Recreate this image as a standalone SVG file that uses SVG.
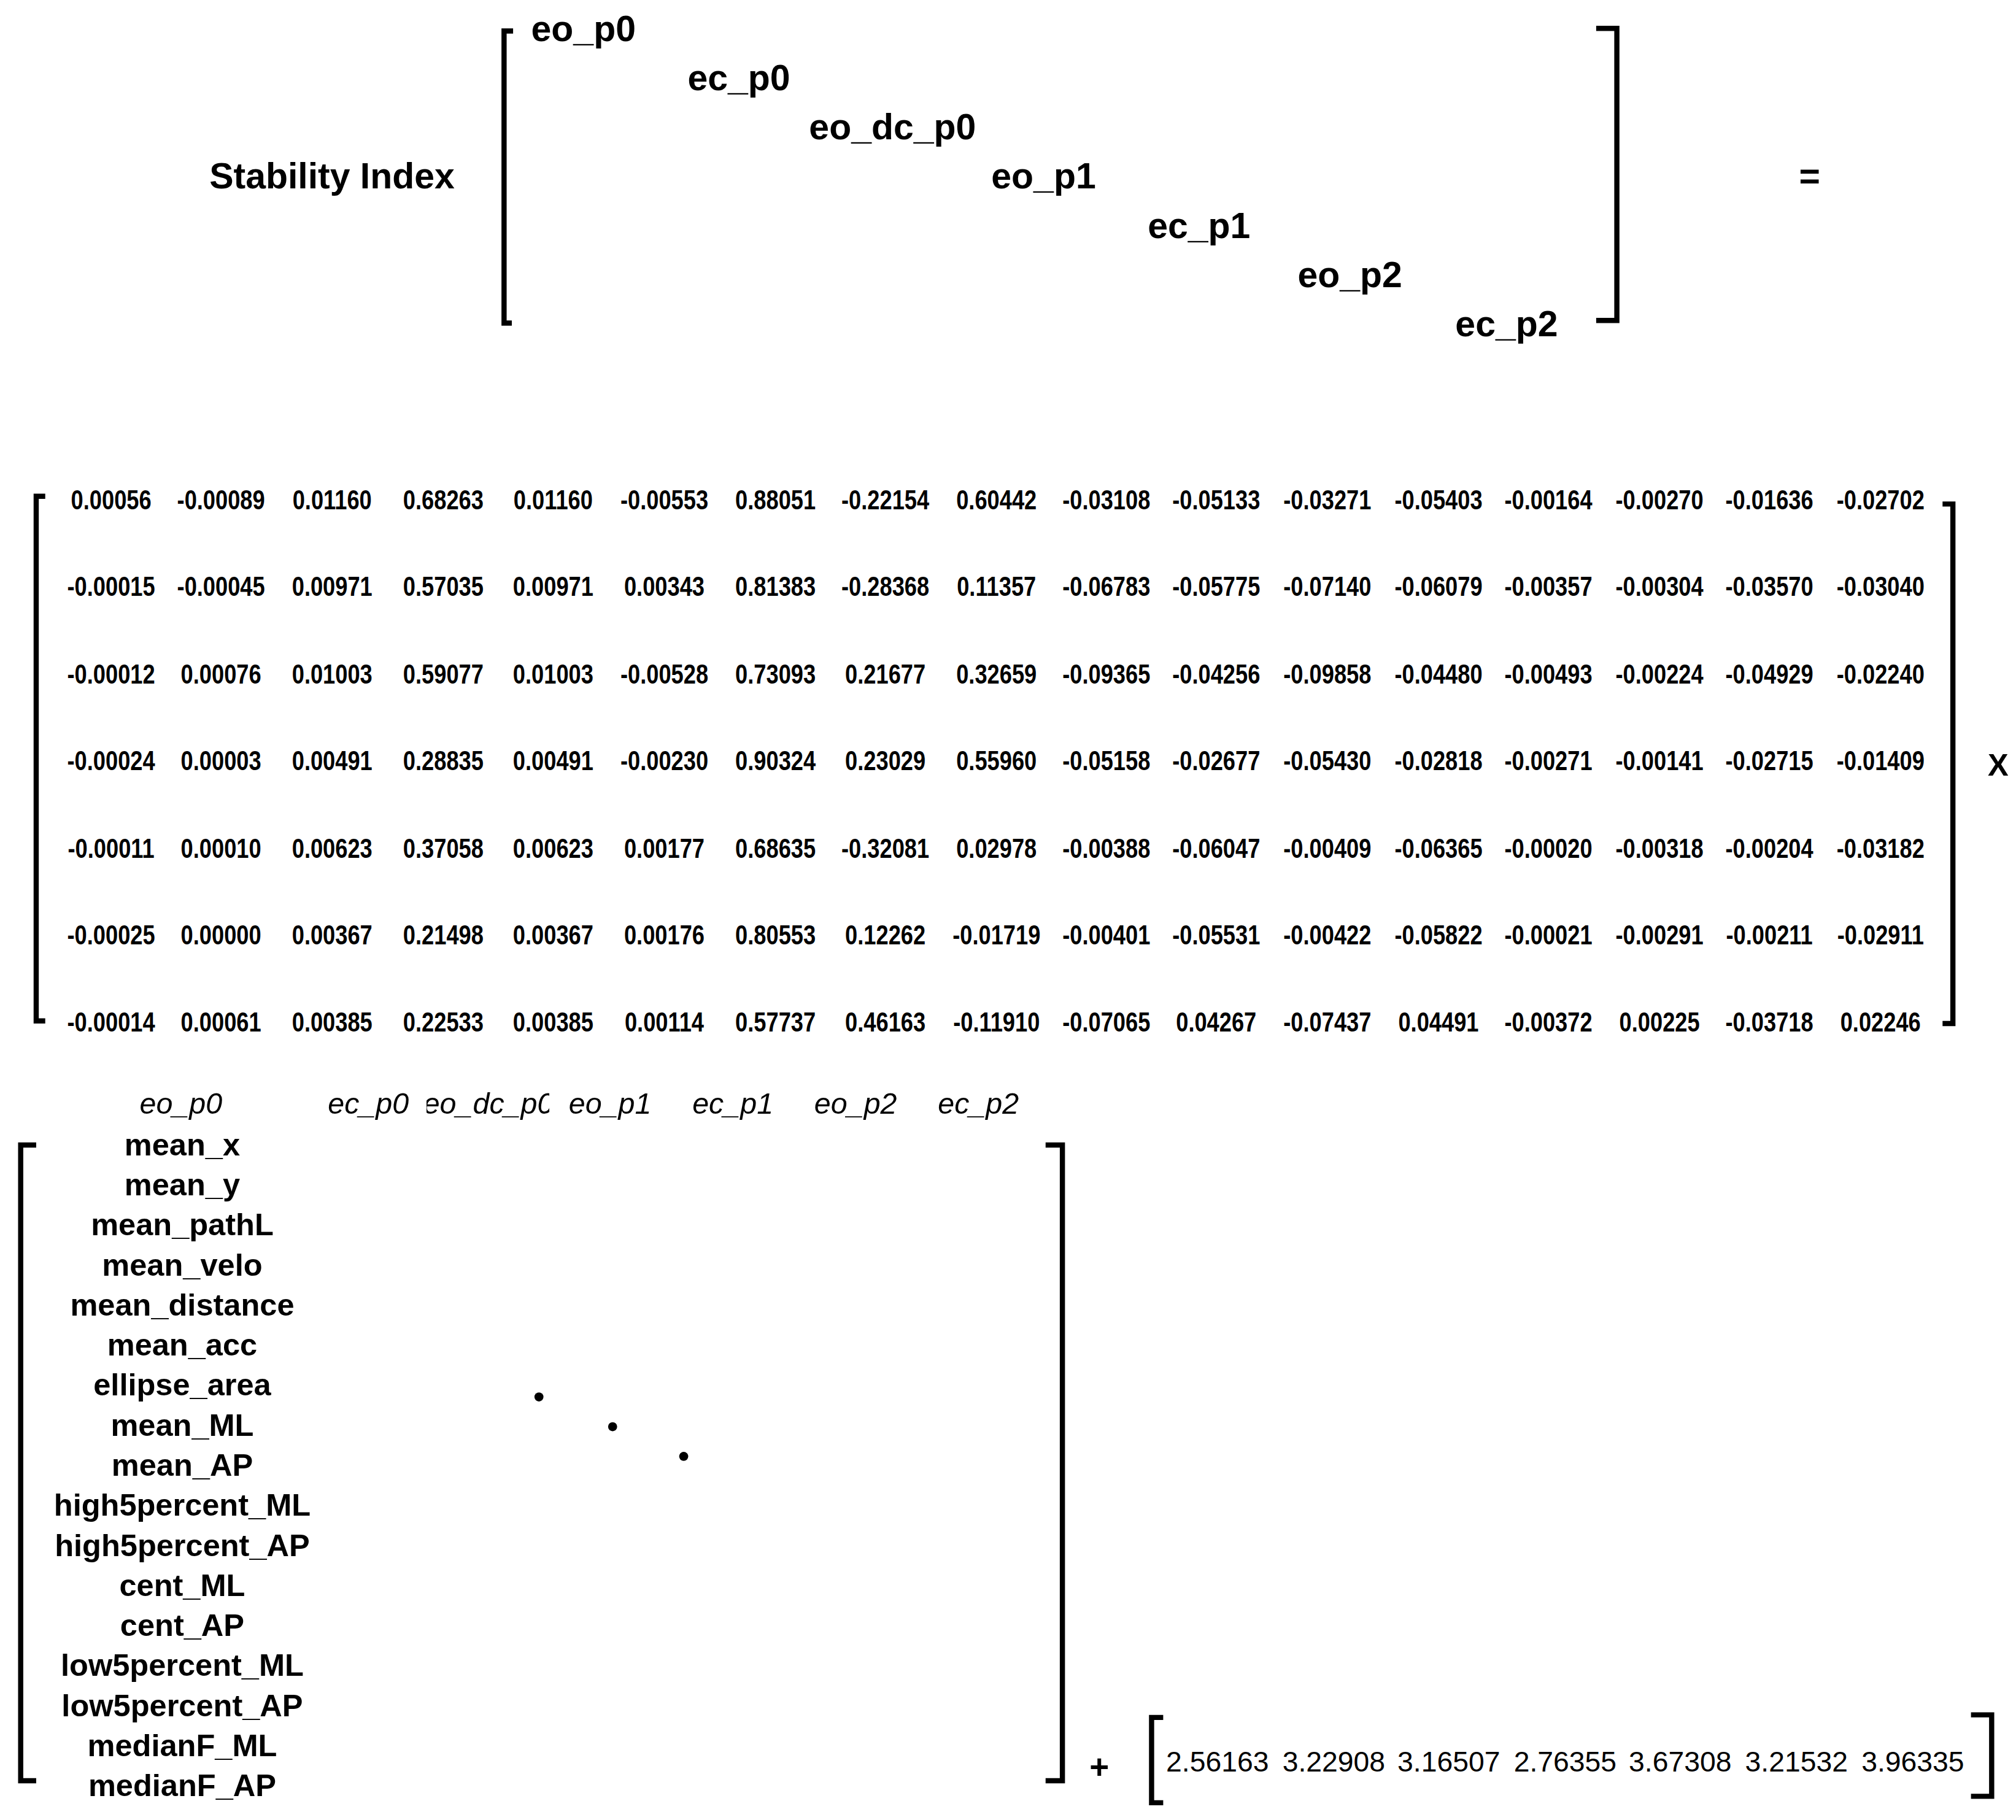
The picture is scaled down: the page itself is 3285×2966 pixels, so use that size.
<svg xmlns="http://www.w3.org/2000/svg" width="3285" height="2966" viewBox="0 0 3285 2966">
<style>
.b{fill:none;stroke:#000;stroke-width:4;stroke-linecap:square}
.t{font-family:"Liberation Sans",Arial,sans-serif;fill:#000}
.h{font-size:28px;font-weight:bold}
.m{font-size:21px;font-weight:bold;text-anchor:middle}
.i{font-size:23px;font-style:italic;text-anchor:middle}
.r{font-size:24px;font-weight:bold;text-anchor:middle}
.v{font-size:22px;text-anchor:middle}
</style>
<defs><clipPath id="c"><rect x="330" y="830" width="95" height="50"/></clipPath></defs>
<rect width="3285" height="2966" fill="#fff"/>
<g transform="scale(2.106)">
<g id="top">
<text class="t h" x="162" y="146">Stability Index</text>
<path class="b" d="M395,24 H390 V250 H394"/>
<path class="b" d="M1237,22 H1251 V248 H1237"/>
<text class="t h" x="411" y="32">eo_p0</text>
<text class="t h" x="532" y="70">ec_p0</text>
<text class="t h" x="626" y="108">eo_dc_p0</text>
<text class="t h" x="767" y="146">eo_p1</text>
<text class="t h" x="888" y="184">ec_p1</text>
<text class="t h" x="1004" y="222">eo_p2</text>
<text class="t h" x="1126" y="260">ec_p2</text>
<text class="t h" x="1392" y="146">=</text>
</g>
<g id="matrix">
<path class="b" d="M33,384 H28 V790 H33"/>
<path class="b" d="M1505,390 H1511 V792 H1505"/>
<g class="t m">
<text transform="translate(86,0) scale(0.82,1)"><tspan x="0" y="394">0.00056</tspan><tspan x="0" y="461">-0.00015</tspan><tspan x="0" y="529">-0.00012</tspan><tspan x="0" y="596">-0.00024</tspan><tspan x="0" y="664">-0.00011</tspan><tspan x="0" y="731">-0.00025</tspan><tspan x="0" y="798">-0.00014</tspan></text>
<text transform="translate(171,0) scale(0.82,1)"><tspan x="0" y="394">-0.00089</tspan><tspan x="0" y="461">-0.00045</tspan><tspan x="0" y="529">0.00076</tspan><tspan x="0" y="596">0.00003</tspan><tspan x="0" y="664">0.00010</tspan><tspan x="0" y="731">0.00000</tspan><tspan x="0" y="798">0.00061</tspan></text>
<text transform="translate(257,0) scale(0.82,1)"><tspan x="0" y="394">0.01160</tspan><tspan x="0" y="461">0.00971</tspan><tspan x="0" y="529">0.01003</tspan><tspan x="0" y="596">0.00491</tspan><tspan x="0" y="664">0.00623</tspan><tspan x="0" y="731">0.00367</tspan><tspan x="0" y="798">0.00385</tspan></text>
<text transform="translate(343,0) scale(0.82,1)"><tspan x="0" y="394">0.68263</tspan><tspan x="0" y="461">0.57035</tspan><tspan x="0" y="529">0.59077</tspan><tspan x="0" y="596">0.28835</tspan><tspan x="0" y="664">0.37058</tspan><tspan x="0" y="731">0.21498</tspan><tspan x="0" y="798">0.22533</tspan></text>
<text transform="translate(428,0) scale(0.82,1)"><tspan x="0" y="394">0.01160</tspan><tspan x="0" y="461">0.00971</tspan><tspan x="0" y="529">0.01003</tspan><tspan x="0" y="596">0.00491</tspan><tspan x="0" y="664">0.00623</tspan><tspan x="0" y="731">0.00367</tspan><tspan x="0" y="798">0.00385</tspan></text>
<text transform="translate(514,0) scale(0.82,1)"><tspan x="0" y="394">-0.00553</tspan><tspan x="0" y="461">0.00343</tspan><tspan x="0" y="529">-0.00528</tspan><tspan x="0" y="596">-0.00230</tspan><tspan x="0" y="664">0.00177</tspan><tspan x="0" y="731">0.00176</tspan><tspan x="0" y="798">0.00114</tspan></text>
<text transform="translate(600,0) scale(0.82,1)"><tspan x="0" y="394">0.88051</tspan><tspan x="0" y="461">0.81383</tspan><tspan x="0" y="529">0.73093</tspan><tspan x="0" y="596">0.90324</tspan><tspan x="0" y="664">0.68635</tspan><tspan x="0" y="731">0.80553</tspan><tspan x="0" y="798">0.57737</tspan></text>
<text transform="translate(685,0) scale(0.82,1)"><tspan x="0" y="394">-0.22154</tspan><tspan x="0" y="461">-0.28368</tspan><tspan x="0" y="529">0.21677</tspan><tspan x="0" y="596">0.23029</tspan><tspan x="0" y="664">-0.32081</tspan><tspan x="0" y="731">0.12262</tspan><tspan x="0" y="798">0.46163</tspan></text>
<text transform="translate(771,0) scale(0.82,1)"><tspan x="0" y="394">0.60442</tspan><tspan x="0" y="461">0.11357</tspan><tspan x="0" y="529">0.32659</tspan><tspan x="0" y="596">0.55960</tspan><tspan x="0" y="664">0.02978</tspan><tspan x="0" y="731">-0.01719</tspan><tspan x="0" y="798">-0.11910</tspan></text>
<text transform="translate(856,0) scale(0.82,1)"><tspan x="0" y="394">-0.03108</tspan><tspan x="0" y="461">-0.06783</tspan><tspan x="0" y="529">-0.09365</tspan><tspan x="0" y="596">-0.05158</tspan><tspan x="0" y="664">-0.00388</tspan><tspan x="0" y="731">-0.00401</tspan><tspan x="0" y="798">-0.07065</tspan></text>
<text transform="translate(941,0) scale(0.82,1)"><tspan x="0" y="394">-0.05133</tspan><tspan x="0" y="461">-0.05775</tspan><tspan x="0" y="529">-0.04256</tspan><tspan x="0" y="596">-0.02677</tspan><tspan x="0" y="664">-0.06047</tspan><tspan x="0" y="731">-0.05531</tspan><tspan x="0" y="798">0.04267</tspan></text>
<text transform="translate(1027,0) scale(0.82,1)"><tspan x="0" y="394">-0.03271</tspan><tspan x="0" y="461">-0.07140</tspan><tspan x="0" y="529">-0.09858</tspan><tspan x="0" y="596">-0.05430</tspan><tspan x="0" y="664">-0.00409</tspan><tspan x="0" y="731">-0.00422</tspan><tspan x="0" y="798">-0.07437</tspan></text>
<text transform="translate(1113,0) scale(0.82,1)"><tspan x="0" y="394">-0.05403</tspan><tspan x="0" y="461">-0.06079</tspan><tspan x="0" y="529">-0.04480</tspan><tspan x="0" y="596">-0.02818</tspan><tspan x="0" y="664">-0.06365</tspan><tspan x="0" y="731">-0.05822</tspan><tspan x="0" y="798">0.04491</tspan></text>
<text transform="translate(1198,0) scale(0.82,1)"><tspan x="0" y="394">-0.00164</tspan><tspan x="0" y="461">-0.00357</tspan><tspan x="0" y="529">-0.00493</tspan><tspan x="0" y="596">-0.00271</tspan><tspan x="0" y="664">-0.00020</tspan><tspan x="0" y="731">-0.00021</tspan><tspan x="0" y="798">-0.00372</tspan></text>
<text transform="translate(1284,0) scale(0.82,1)"><tspan x="0" y="394">-0.00270</tspan><tspan x="0" y="461">-0.00304</tspan><tspan x="0" y="529">-0.00224</tspan><tspan x="0" y="596">-0.00141</tspan><tspan x="0" y="664">-0.00318</tspan><tspan x="0" y="731">-0.00291</tspan><tspan x="0" y="798">0.00225</tspan></text>
<text transform="translate(1369,0) scale(0.82,1)"><tspan x="0" y="394">-0.01636</tspan><tspan x="0" y="461">-0.03570</tspan><tspan x="0" y="529">-0.04929</tspan><tspan x="0" y="596">-0.02715</tspan><tspan x="0" y="664">-0.00204</tspan><tspan x="0" y="731">-0.00211</tspan><tspan x="0" y="798">-0.03718</tspan></text>
<text transform="translate(1455,0) scale(0.82,1)"><tspan x="0" y="394">-0.02702</tspan><tspan x="0" y="461">-0.03040</tspan><tspan x="0" y="529">-0.02240</tspan><tspan x="0" y="596">-0.01409</tspan><tspan x="0" y="664">-0.03182</tspan><tspan x="0" y="731">-0.02911</tspan><tspan x="0" y="798">0.02246</tspan></text>
</g>
<text class="t" x="1538" y="600" style="font-size:24px;font-weight:bold">X</text>
</g>
<g id="features">
<g class="t i">
<text x="140" y="862">eo_p0</text>
<text x="285" y="862">ec_p0</text>
<text x="378" y="862" clip-path="url(#c)">eo_dc_p0</text>
<text x="472" y="862">eo_p1</text>
<text x="567" y="862">ec_p1</text>
<text x="662" y="862">eo_p2</text>
<text x="757" y="862">ec_p2</text>
</g>
<path class="b" d="M26,886 H16 V1378 H26"/>
<path class="b" d="M811,886 H822 V1378 H811"/>
<g class="t r">
<text x="141" y="894">mean_x</text>
<text x="141" y="925">mean_y</text>
<text x="141" y="956">mean_pathL</text>
<text x="141" y="987">mean_velo</text>
<text x="141" y="1018">mean_distance</text>
<text x="141" y="1049">mean_acc</text>
<text x="141" y="1080">ellipse_area</text>
<text x="141" y="1111">mean_ML</text>
<text x="141" y="1142">mean_AP</text>
<text x="141" y="1173">high5percent_ML</text>
<text x="141" y="1204">high5percent_AP</text>
<text x="141" y="1235">cent_ML</text>
<text x="141" y="1266">cent_AP</text>
<text x="141" y="1297">low5percent_ML</text>
<text x="141" y="1328">low5percent_AP</text>
<text x="141" y="1359">medianF_ML</text>
<text x="141" y="1390">medianF_AP</text>
</g>
<circle cx="417" cy="1081" r="3.5"/>
<circle cx="474" cy="1104" r="3.5"/>
<circle cx="529" cy="1127" r="3.5"/>
</g>
<g id="bias">
<text class="t" x="843" y="1376" style="font-size:26px;font-weight:bold">+</text>
<path class="b" d="M898,1329 H891 V1395 H898"/>
<path class="b" d="M1527,1327 H1541 V1390 H1527"/>
<g class="t v">
<text y="1371"><tspan x="942">2.56163</tspan><tspan x="1032">3.22908</tspan><tspan x="1121">3.16507</tspan><tspan x="1211">2.76355</tspan><tspan x="1300">3.67308</tspan><tspan x="1390">3.21532</tspan><tspan x="1480">3.96335</tspan></text>
</g>
</g>
</g>
</svg>
